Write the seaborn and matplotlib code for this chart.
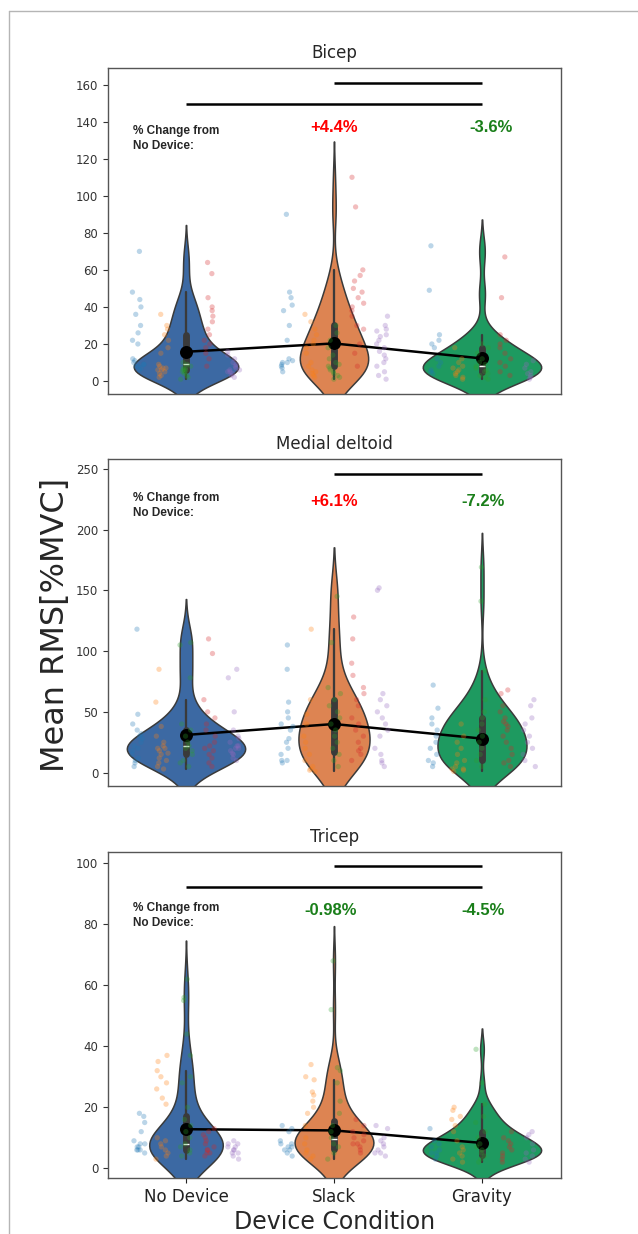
import numpy as np
import pandas as pd
import matplotlib
matplotlib.use("Agg")
import matplotlib.pyplot as plt
import seaborn as sns
from matplotlib.lines import Line2D
from matplotlib.collections import PolyCollection

# ---------------- data ----------------
conditions = ["No Device", "Slack", "Gravity"]
subjects = ["S1", "S2", "S3", "S4", "S5"]
muscles = ["Bicep", "Medial deltoid", "Tricep"]

# each list: five subjects' trial values (Mean RMS, %MVC)
bicep_no_device = [
    [6, 7, 8, 8, 9, 9, 10, 11, 12, 20, 22, 26, 30, 36, 40, 44, 48, 70],
    [2, 3, 4, 5, 6, 6, 7, 7, 8, 9, 15, 18, 22, 25, 28, 30, 36],
    [1, 2, 3, 4, 5, 5, 6, 6, 7, 7, 8, 9, 10],
    [8, 12, 15, 18, 20, 22, 25, 28, 32, 35, 38, 40, 45, 58, 64],
    [2, 3, 4, 5, 5, 6, 6, 7, 8, 9, 10, 12, 14, 16],
]
bicep_slack = [
    [5, 7, 8, 9, 10, 10, 11, 12, 22, 30, 38, 41, 45, 48, 90],
    [2, 3, 4, 5, 6, 8, 10, 15, 18, 20, 22, 25, 28, 32, 36],
    [1, 2, 3, 4, 5, 6, 7, 8, 9, 10, 12, 14, 18, 22, 26, 30],
    [8, 15, 20, 28, 30, 35, 38, 40, 42, 45, 48, 50, 54, 57, 60, 94, 110],
    [1, 3, 5, 8, 10, 12, 14, 16, 18, 20, 22, 24, 25, 27, 28, 30, 35],
]
bicep_gravity = [
    [4, 5, 6, 8, 10, 12, 18, 20, 22, 25, 49, 73],
    [1, 2, 3, 4, 5, 6, 7, 8, 10, 12, 18],
    [1, 2, 3, 4, 5, 6, 7, 8, 9, 10, 12, 15, 18, 20],
    [3, 5, 8, 10, 12, 15, 18, 20, 22, 25, 45, 67],
    [1, 2, 3, 4, 5, 7, 9, 11],
]
deltoid_no_device = [
    [5, 8, 10, 12, 15, 18, 20, 22, 25, 28, 30, 32, 35, 40, 48, 118],
    [3, 5, 8, 10, 12, 15, 16, 18, 20, 20, 22, 25, 30, 38, 58, 85],
    [5, 8, 10, 15, 18, 20, 22, 25, 30, 35, 40, 78, 105, 107],
    [5, 8, 12, 15, 18, 20, 22, 25, 30, 35, 40, 45, 50, 60, 98, 110],
    [10, 12, 15, 16, 18, 20, 20, 22, 22, 25, 28, 30, 35, 50, 78, 85],
]
deltoid_slack = [
    [8, 10, 10, 15, 20, 25, 28, 35, 38, 40, 45, 50, 58, 85, 105],
    [1, 2, 3, 5, 10, 15, 20, 25, 30, 40, 48, 60, 118],
    [5, 10, 15, 20, 25, 30, 35, 40, 45, 50, 55, 60, 65, 70, 107, 145],
    [10, 15, 18, 20, 25, 30, 35, 40, 45, 55, 60, 65, 70, 80, 90, 110, 128],
    [5, 8, 10, 15, 20, 30, 35, 40, 45, 50, 55, 60, 65, 150, 152],
]
deltoid_gravity = [
    [5, 8, 10, 15, 20, 25, 30, 35, 40, 45, 53, 72],
    [1, 2, 3, 3, 5, 8, 10, 15, 20, 25, 30, 40],
    [5, 10, 15, 20, 25, 30, 35, 40, 45, 50, 60, 84, 141, 169],
    [5, 8, 10, 15, 20, 25, 30, 35, 38, 40, 42, 45, 50, 55, 65, 68],
    [5, 10, 15, 20, 25, 30, 35, 40, 45, 55, 60],
]
tricep_no_device = [
    [5, 6, 6, 6, 7, 7, 8, 8, 9, 12, 15, 17, 18],
    [3, 4, 5, 6, 7, 8, 9, 10, 21, 23, 26, 28, 30, 32, 35, 37],
    [4, 5, 6, 7, 8, 10, 12, 14, 16, 20, 28, 30, 37, 44, 55, 56, 62],
    [4, 5, 5, 6, 6, 7, 8, 9, 10, 11, 12, 13],
    [3, 4, 5, 5, 6, 6, 7, 7, 8, 8, 9],
]
tricep_slack = [
    [4, 5, 6, 6, 7, 7, 8, 8, 9, 12, 13, 14],
    [3, 4, 5, 6, 8, 10, 14, 18, 20, 22, 24, 25, 29, 30, 34],
    [3, 5, 7, 8, 10, 12, 14, 18, 22, 28, 32, 33, 52, 68],
    [5, 6, 7, 8, 8, 9, 10, 11, 12, 14, 16],
    [4, 5, 5, 6, 7, 8, 9, 10, 13, 14],
]
tricep_gravity = [
    [3, 4, 5, 5, 6, 7, 8, 9, 13],
    [2, 3, 4, 5, 6, 7, 9, 12, 14, 16, 17, 19, 20],
    [2, 3, 4, 5, 6, 7, 8, 10, 12, 15, 17, 21, 28, 39],
    [2, 3, 4, 5, 6, 7, 8, 9, 10, 12],
    [2, 3, 4, 5, 6, 8, 10, 11, 12],
]

# group means shown by the black line
bicep_means = [15.8, 20.3, 12.2]
deltoid_means = [31.0, 40.0, 28.0]
tricep_means = [12.8, 12.4, 8.3]

# % change annotations (Slack, Gravity)
bicep_pct = ["+4.4%", "-3.6%"]
deltoid_pct = ["+6.1%", "-7.2%"]
tricep_pct = ["-0.98%", "-4.5%"]

# ---------------- styling / layout ----------------
violin_colors = ["#3C69A3", "#DD8452", "#1E9A60"]
subject_colors = sns.color_palette("tab10", 5)
pct_up, pct_down = "#FF0000", "#1A7F1A"

panels = [
    dict(title="Bicep", data=[bicep_no_device, bicep_slack, bicep_gravity],
         means=bicep_means, pct=bicep_pct, ylim=(-7, 169), yticks=np.arange(0, 161, 20),
         sig=[(1, 2, 160.8), (0, 2, 149.7)], note_y=131, pct_y=137, pct_x=[1.0, 2.06],
         rect=[108/638, 1 - 394/1234, 453/638, 326/1234]),
    dict(title="Medial deltoid", data=[deltoid_no_device, deltoid_slack, deltoid_gravity],
         means=deltoid_means, pct=deltoid_pct, ylim=(-11, 258), yticks=np.arange(0, 251, 50),
         sig=[(1, 2, 245.3)], note_y=220, pct_y=223, pct_x=[1.0, 2.01],
         rect=[108/638, 1 - 786/1234, 453/638, 327/1234]),
    dict(title="Tricep", data=[tricep_no_device, tricep_slack, tricep_gravity],
         means=tricep_means, pct=tricep_pct, ylim=(-3.2, 103.7), yticks=np.arange(0, 101, 20),
         sig=[(1, 2, 99.1), (0, 2, 92.3)], note_y=83, pct_y=84.4, pct_x=[0.98, 2.01],
         rect=[108/638, 1 - 1178/1234, 453/638, 326/1234]),
]

sns.set_style("white")
plt.rcParams["font.family"] = ["DejaVu Sans"]

fig = plt.figure(figsize=(6.38, 12.34), dpi=100)
np.random.seed(3)

for i, p in enumerate(panels):
    ax = fig.add_axes(p["rect"])
    rows = []
    for c, cond in enumerate(conditions):
        for s, subj in enumerate(subjects):
            for v in p["data"][c][s]:
                rows.append((cond, subj, v))
    df = pd.DataFrame(rows, columns=["condition", "subject", "value"])

    sns.violinplot(data=df, x="condition", y="value", order=conditions,
                   color=violin_colors[0], saturation=1,
                   inner="box", linecolor="#3a3a3a", linewidth=1.1, bw_adjust=1.1, ax=ax)
    polys = [c for c in ax.collections if isinstance(c, PolyCollection)]
    for poly, col in zip(polys, violin_colors):
        poly.set_facecolor(col)
    sns.stripplot(data=df, x="condition", y="value", hue="subject", order=conditions,
                  hue_order=subjects, palette=subject_colors, dodge=True, jitter=0.22,
                  size=3.8, alpha=0.3, linewidth=0, legend=False, ax=ax)
    mdf = pd.DataFrame({"condition": conditions, "mean": p["means"]})
    sns.pointplot(data=mdf, x="condition", y="mean", order=conditions, color="black",
                  errorbar=None, markersize=8, linewidth=1.8, ax=ax)

    for (x0, x1, y) in p["sig"]:
        ax.plot([x0, x1], [y, y], color="black", lw=1.8, solid_capstyle="butt")

    ax.text(-0.36, p["note_y"], "% Change from\nNo Device:", ha="left", va="center",
            fontsize=8.5, fontweight="bold", family="Liberation Sans", linespacing=1.35)
    for k, txt in enumerate(p["pct"]):
        col = pct_up if txt.startswith("+") else pct_down
        ax.text(p["pct_x"][k], p["pct_y"], txt, ha="center", va="center", fontsize=12,
                fontweight="bold", family="Liberation Sans", color=col)

    ax.set_ylim(*p["ylim"])
    ax.set_xlim(-0.527, 2.534)
    ax.set_yticks(p["yticks"])
    ax.set_title(p["title"], fontsize=12, pad=7)
    ax.set_xlabel("")
    ax.set_ylabel("")
    for sp in ax.spines.values():
        sp.set_color("#555555")
        sp.set_linewidth(1.0)
    ax.tick_params(axis="y", labelsize=8.5, length=3.5, width=0.8, left=True, colors="#333333")
    if i < 2:
        ax.tick_params(axis="x", bottom=False, labelbottom=False)
    else:
        ax.tick_params(axis="x", labelsize=12, length=3.5, width=0.8, bottom=True, colors="#222222")

fig.text(56/638, 1 - 625/1234, "Mean RMS[%MVC]", rotation=90, ha="center", va="center",
         fontsize=23)
fig.text(334.5/638, 1 - 1229/1234, "Device Condition", ha="center", va="baseline",
         fontsize=17)

# light frame of the original figure crop
fig.add_artist(Line2D([9/638, 9/638], [0, 1 - 11/1234], transform=fig.transFigure,
                      color="#b5b5b5", lw=1))
fig.add_artist(Line2D([9/638, 1], [1 - 11/1234, 1 - 11/1234], transform=fig.transFigure,
                      color="#b5b5b5", lw=1))

fig.savefig("out.png", dpi=100, facecolor="white")
